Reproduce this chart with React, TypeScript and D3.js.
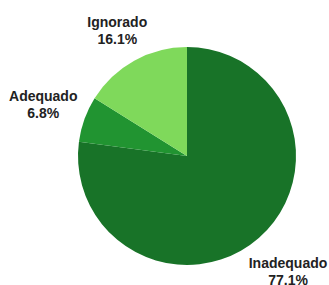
import React, { useEffect, useRef } from 'react';
import * as d3 from 'd3';

const categories = ['Inadequado', 'Adequado', 'Ignorado'];
const values = [77.1, 6.8, 16.1];
const colors = ['#187328', '#219431', '#7fd95b'];

const width = 329;
const height = 285;

const App = () => {
    const ref = useRef<SVGSVGElement>(null);

    useEffect(() => {
        const svg = d3.select(ref.current);
        svg.selectAll('*').remove();

        const cx = 187;
        const cy = 156;
        const radius = 109;
        const labelGap = 6;

        const data = categories.map((c, i) => ({ name: c, value: values[i], color: colors[i] }));

        const pie = d3.pie<any>()
            .sort(null)
            .value(d => d.value);

        const arc = d3.arc<any>()
            .innerRadius(0)
            .outerRadius(radius);

        const g = svg.append('g').attr('transform', `translate(${cx},${cy})`);
        const arcs = pie(data);

        g.selectAll('path')
            .data(arcs)
            .enter()
            .append('path')
            .attr('d', arc)
            .attr('fill', d => d.data.color);

        const labels = g.selectAll('text')
            .data(arcs)
            .enter()
            .append('text')
            .attr('text-anchor', 'middle')
            .style('font-family', '"Liberation Sans", Arial, sans-serif')
            .style('font-weight', 'bold')
            .style('font-size', '14px')
            .attr('fill', '#222');

        labels.append('tspan')
            .attr('x', 0)
            .attr('y', 0)
            .text(d => d.data.name);

        labels.append('tspan')
            .attr('x', 0)
            .attr('y', 17)
            .text(d => d.data.value.toFixed(1) + '%');

        // push each label box out along the slice's mid angle until it clears the pie
        labels.each(function (d) {
            const el = this as SVGTextElement;
            const box = el.getBBox();
            const mid = (d.startAngle + d.endAngle) / 2;
            const dx = Math.sin(mid);
            const dy = -Math.cos(mid);
            const extent = Math.abs(dx) * box.width / 2 + Math.abs(dy) * box.height / 2;
            const r = radius + labelGap + extent;
            const px = dx * r - (box.x + box.width / 2);
            const py = dy * r - (box.y + box.height / 2);
            d3.select(el).attr('transform', `translate(${px},${py})`);
        });
    }, []);

    return (
        <svg ref={ref} width={width} height={height}
            style={{ position: 'absolute', left: 0, top: 0, background: '#fff' }}></svg>
    );
};

export default App;
